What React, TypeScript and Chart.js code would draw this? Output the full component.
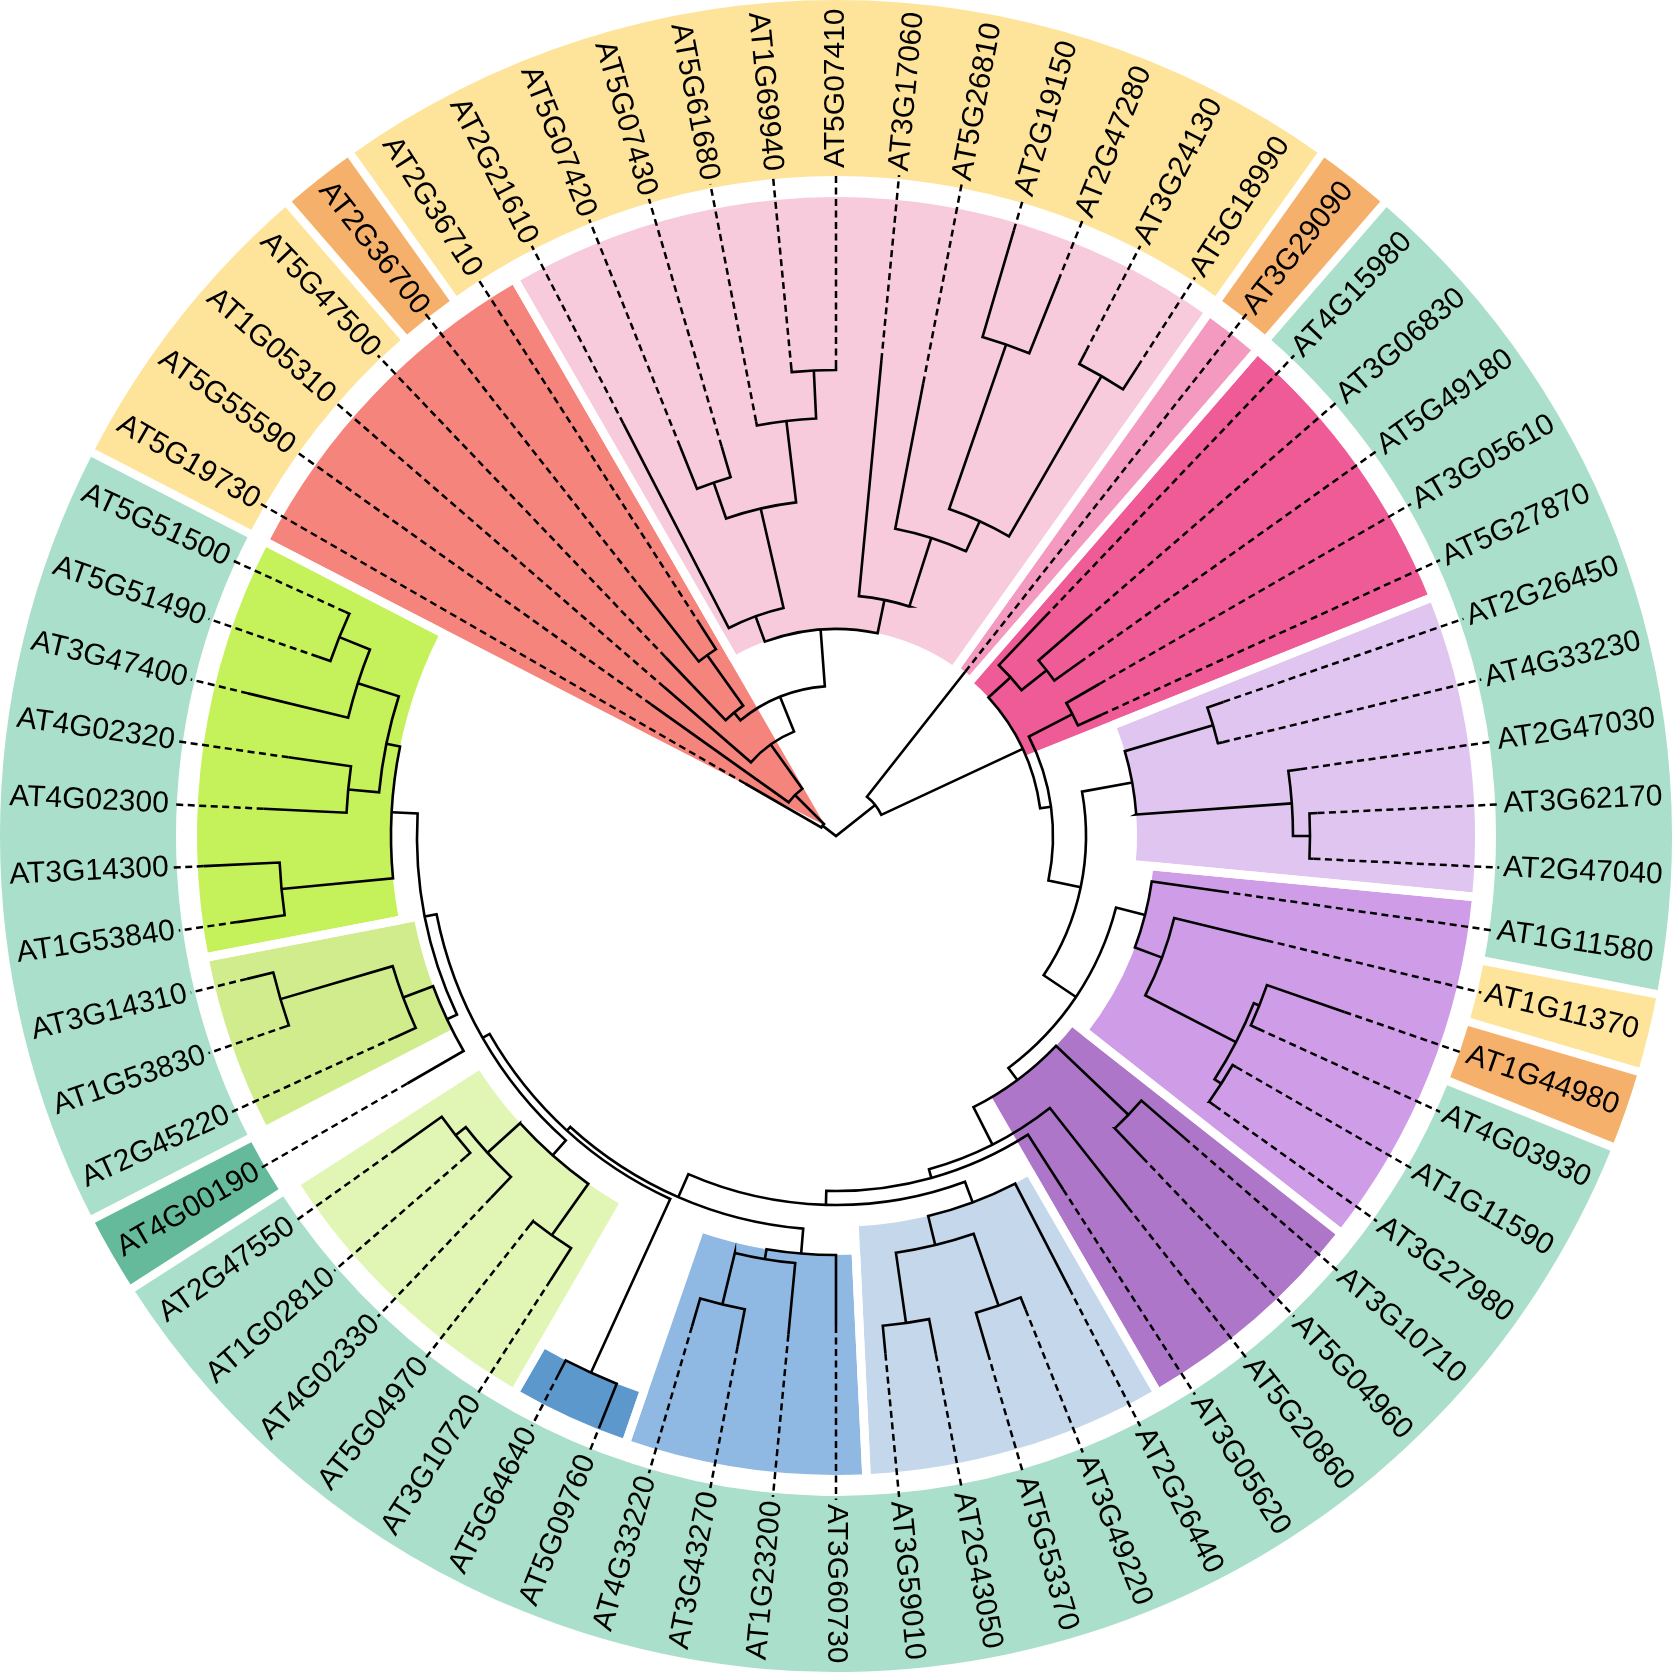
import React, { useEffect, useRef } from "react";
import { Chart, registerables } from "chart.js";

Chart.register(...registerables);

// ---------------- data ----------------
const leafLabels = [
  "AT5G19730", "AT5G55590", "AT1G05310", "AT5G47500", "AT2G36700", "AT2G36710", "AT2G21610", "AT5G07420", "AT5G07430", "AT5G61680",
  "AT1G69940", "AT5G07410", "AT3G17060", "AT5G26810", "AT2G19150", "AT2G47280", "AT3G24130", "AT5G18990", "AT3G29090", "AT4G15980",
  "AT3G06830", "AT5G49180", "AT3G05610", "AT5G27870", "AT2G26450", "AT4G33230", "AT2G47030", "AT3G62170", "AT2G47040", "AT1G11580",
  "AT1G11370", "AT1G44980", "AT4G03930", "AT1G11590", "AT3G27980", "AT3G10710", "AT5G04960", "AT5G20860", "AT3G05620", "AT2G26440",
  "AT3G49220", "AT5G53370", "AT2G43050", "AT3G59010", "AT3G60730", "AT1G23200", "AT3G43270", "AT4G33220", "AT5G09760", "AT5G64640",
  "AT3G10720", "AT5G04970", "AT4G02330", "AT1G02810", "AT2G47550", "AT4G00190", "AT2G45220", "AT1G53830", "AT3G14310", "AT1G53840",
  "AT3G14300", "AT4G02300", "AT4G02320", "AT3G47400", "AT5G51490", "AT5G51500",
];

// tree in Newick form; the number after ":" is the node depth (distance from the root)
const cladeRed = "(AT5G47500:247,(AT2G36700:312,AT2G36710:250):222):160";
const cladePinkA = "(AT2G21610:464,((AT5G07420:419,AT5G07430:406):374,(AT5G61680:422,(AT1G69940:469,AT5G07410:469):466):418):336):234";
const cladePinkB = "(AT3G17060:478,(AT5G26810:461,((AT2G19150:631,AT2G47280:598):520,(AT3G24130:545,AT5G18990:558):531):346):313):241";
const cladeUpper = `(AT5G19730:105,(AT5G55590:227,(AT1G05310:227,(${cladeRed},(${cladePinkA},${cladePinkB}):207):150):112.5):58):17`;

const cladeMagA = "(AT4G15980:303,(AT3G06830:332,AT5G49180:299):268):236";
const cladeMagB = "(AT3G05610:304,AT5G27870:292):266";
const cladeLilac = "((AT2G26450:410,AT4G33230:398):393,(AT2G47030:469,(AT3G62170:482,AT2G47040:478):474):457):301";
const cladePurple = "(AT1G11580:390,(AT1G11370:443,((AT1G44980:538,AT4G03930:464):456,(AT1G11590:462,AT3G27980:465):458):450):348):319";
const cladeLightBlue = "(AT2G26440:509,((AT3G49220:510,AT5G53370:539):497,(AT2G43050:528,AT3G59010:520):492):421):391";
const cladeBlue = "(AT3G60730:490,(AT1G23200:501,(AT3G43270:520,AT4G33220:511):482):429):419";
const cladeDarkBlue = "(AT5G09760:631,AT5G64640:605):590";
const cladePaleGreen = "((AT3G10720:528,AT5G04970:495):490,(AT4G02330:500,(AT1G02810:490,AT2G47550:539):484):471):427";
const cladeMidGreen = "(AT4G00190:495,(AT2G45220:485,(AT1G53830:582,AT3G14310:606):579):462):430";
const cladeGreen = "((AT1G53840:605,AT3G14300:633):557,((AT4G02300:573,AT4G02320:553):490,(AT3G47400:605,(AT5G51490:548,AT5G51500:540):535):502):459):445";
const cladeV = `(${cladeDarkBlue},(${cladePaleGreen},(${cladeMidGreen},${cladeGreen}):419):407):399`;
const cladeZ = `(${cladeLightBlue},(${cladeBlue},${cladeV}):394):369`;
const cladeG = `((AT3G10710:461,AT5G04960:444):404,(AT5G20860:472,(AT3G05620:420,${cladeZ}):355):346):304`;
const cladeLower = `(AT3G29090:209,(${cladeMagA},(${cladeMagB},(${cladeLilac},(${cladePurple},${cladeG}):289):250):217):206):50`;
const treeNewick = `(${cladeUpper},${cladeLower}):0;`;

// highlighted clades (inner wedges)
const wedgeFirst = ["AT5G19730", "AT2G21610", "AT3G29090", "AT4G15980", "AT2G26450", "AT1G11580", "AT3G10710", "AT2G26440", "AT3G60730", "AT5G09760", "AT3G10720", "AT2G45220", "AT1G53840"];
const wedgeLast = ["AT2G36710", "AT5G18990", "AT3G29090", "AT5G27870", "AT2G47040", "AT3G27980", "AT3G05620", "AT3G59010", "AT4G33220", "AT5G64640", "AT2G47550", "AT3G14310", "AT5G51500"];
const wedgeDepth = [17, 207, 209, 206, 301, 319, 304, 391, 419, 590, 427, 430, 445];
const wedgeColors = ["#F4847C", "#F7CBDC", "#F49AC0", "#EE5B96", "#E0C5F0", "#CF9CE8", "#AD76C8", "#C5D8EB", "#8FB9E3", "#5C98CC", "#E1F5B5", "#D0EC8C", "#C5F15A"];

// outer ring categories, as runs along the leaf order
const bandRunClass = ["Y", "O", "Y", "O", "T", "Y", "O", "T", "D", "T"];
const bandRunLength = [4, 1, 13, 1, 11, 1, 1, 23, 1, 10];
const bandColors: Record<string, string> = { Y: "#FEE49B", O: "#F5B16B", T: "#A9DFCB", D: "#64BA9B" };

// ---------------- layout constants ----------------
const EXTENT = 836;
const FIRST_LEAF_ANGLE = -150;
const WEDGE_OUTER = 639;
const BAND_INNER = 660;
const BAND_OUTER = 836;
const LABEL_START = 668;
const GAP = 8.5;

type TreeNode = { name: string; depth: number; children: TreeNode[]; angle: number; leafIndex: number };

function parseNewick(s: string): TreeNode {
  let i = 0;
  const parse = (): TreeNode => {
    const node: TreeNode = { name: "", depth: 0, children: [], angle: 0, leafIndex: -1 };
    if (s[i] === "(") {
      i++;
      node.children.push(parse());
      while (s[i] === ",") {
        i++;
        node.children.push(parse());
      }
      i++;
    }
    let name = "";
    while (i < s.length && !",():;".includes(s[i])) name += s[i++];
    node.name = name.trim();
    if (s[i] === ":") {
      i++;
      let num = "";
      while (i < s.length && !",();".includes(s[i])) num += s[i++];
      node.depth = parseFloat(num);
    }
    return node;
  };
  return parse();
}

const STEP = 360 / leafLabels.length;
const leafAngle = (idx: number) => FIRST_LEAF_ANGLE + idx * STEP;

function layout(node: TreeNode, leaves: TreeNode[]) {
  if (node.children.length === 0) {
    node.leafIndex = leafLabels.indexOf(node.name);
    node.angle = leafAngle(node.leafIndex);
    leaves.push(node);
    return;
  }
  node.children.forEach((c) => layout(c, leaves));
  const first = node.children[0];
  const last = node.children[node.children.length - 1];
  node.angle = (first.angle + last.angle) / 2;
}

const tree = parseNewick(treeNewick);
const leafNodes: TreeNode[] = [];
layout(tree, leafNodes);

const phyloPlugin = {
  id: "phylo",
  beforeDatasetsDraw(chart: any) {
    const { ctx } = chart;
    const xs = chart.scales.x;
    const ys = chart.scales.y;
    const cx = xs.getPixelForValue(0);
    const cy = ys.getPixelForValue(0);
    const rad = (deg: number) => (deg * Math.PI) / 180;
    const R = (d: number) => xs.getPixelForValue(d) - cx;
    const P = (d: number, deg: number): [number, number] => {
      const a = rad(deg);
      return [xs.getPixelForValue(d * Math.cos(a)), ys.getPixelForValue(d * Math.sin(a))];
    };
    const sector = (d0: number, d1: number, a0: number, a1: number, color: string) => {
      ctx.beginPath();
      ctx.arc(cx, cy, R(d1), rad(a0), rad(a1), false);
      ctx.arc(cx, cy, Math.max(R(d0), 0), rad(a1), rad(a0), true);
      ctx.closePath();
      ctx.fillStyle = color;
      ctx.fill();
    };
    const gapLine = (d0: number, d1: number, a: number) => {
      const [x0, y0] = P(d0, a);
      const [x1, y1] = P(d1, a);
      ctx.beginPath();
      ctx.moveTo(x0, y0);
      ctx.lineTo(x1, y1);
      ctx.strokeStyle = "#ffffff";
      ctx.lineWidth = GAP;
      ctx.lineCap = "butt";
      ctx.stroke();
    };

    ctx.save();

    // outer ring
    let start = 0;
    const bounds: number[] = [];
    bandRunClass.forEach((cls, k) => {
      const end = start + bandRunLength[k] - 1;
      const a0 = leafAngle(start) - STEP / 2;
      const a1 = leafAngle(end) + STEP / 2;
      sector(BAND_INNER, BAND_OUTER, a0, a1, bandColors[cls]);
      bounds.push(a0);
      start = end + 1;
    });
    bounds.forEach((a) => gapLine(BAND_INNER - 6, BAND_OUTER + 6, a));

    // clade wedges
    wedgeFirst.forEach((f, k) => {
      const i0 = leafLabels.indexOf(f);
      const i1 = leafLabels.indexOf(wedgeLast[k]);
      sector(wedgeDepth[k], WEDGE_OUTER, leafAngle(i0) - STEP / 2, leafAngle(i1) + STEP / 2, wedgeColors[k]);
    });
    wedgeFirst.forEach((f, k) => {
      const i0 = leafLabels.indexOf(f);
      const i1 = leafLabels.indexOf(wedgeLast[k]);
      gapLine(wedgeDepth[k] - 3, WEDGE_OUTER + 3, leafAngle(i0) - STEP / 2);
      gapLine(wedgeDepth[k] - 3, WEDGE_OUTER + 3, leafAngle(i1) + STEP / 2);
    });

    // dotted leaf extensions
    ctx.strokeStyle = "#000000";
    ctx.lineWidth = 2.5;
    ctx.setLineDash([7, 4.5]);
    leafNodes.forEach((lf) => {
      const [x0, y0] = P(lf.depth, lf.angle);
      const [x1, y1] = P(LABEL_START - 4, lf.angle);
      ctx.beginPath();
      ctx.moveTo(x0, y0);
      ctx.lineTo(x1, y1);
      ctx.stroke();
    });
    ctx.setLineDash([]);

    // tree branches
    ctx.lineWidth = 2.6;
    ctx.lineJoin = "miter";
    ctx.lineCap = "butt";
    const drawNode = (node: TreeNode) => {
      if (node.children.length === 0) return;
      const first = node.children[0];
      const last = node.children[node.children.length - 1];
      ctx.beginPath();
      let p = P(first.depth, first.angle);
      ctx.moveTo(p[0], p[1]);
      p = P(node.depth, first.angle);
      ctx.lineTo(p[0], p[1]);
      if (node.depth > 0) ctx.arc(cx, cy, R(node.depth), rad(first.angle), rad(last.angle), false);
      p = P(node.depth, last.angle);
      ctx.lineTo(p[0], p[1]);
      p = P(last.depth, last.angle);
      ctx.lineTo(p[0], p[1]);
      for (let k = 1; k < node.children.length - 1; k++) {
        const c = node.children[k];
        const a = P(node.depth, c.angle);
        const b = P(c.depth, c.angle);
        ctx.moveTo(a[0], a[1]);
        ctx.lineTo(b[0], b[1]);
      }
      ctx.stroke();
      node.children.forEach(drawNode);
    };
    drawNode(tree);

    // labels
    ctx.fillStyle = "#000000";
    ctx.font = "30px 'Liberation Sans', Arial, sans-serif";
    ctx.textBaseline = "middle";
    leafNodes.forEach((lf) => {
      let a = lf.angle;
      while (a > 180) a -= 360;
      while (a <= -180) a += 360;
      const [x, y] = P(LABEL_START, a);
      ctx.save();
      ctx.translate(x, y);
      if (a >= -90 && a <= 90) {
        ctx.rotate(rad(a));
        ctx.textAlign = "left";
      } else {
        ctx.rotate(rad(a + 180));
        ctx.textAlign = "right";
      }
      ctx.fillText(lf.name, 0, 0);
      ctx.restore();
    });

    ctx.restore();
  },
};

export default function App() {
  const ref = useRef<HTMLCanvasElement>(null);
  useEffect(() => {
    document.body.style.margin = "0";
    const tips = leafNodes.map((lf) => ({
      x: lf.depth * Math.cos((lf.angle * Math.PI) / 180),
      y: lf.depth * Math.sin((lf.angle * Math.PI) / 180),
    }));
    const chart = new Chart(ref.current as HTMLCanvasElement, {
      type: "scatter",
      data: { datasets: [{ data: tips, pointRadius: 0, pointHoverRadius: 0, showLine: false }] },
      options: {
        animation: false,
        responsive: false,
        devicePixelRatio: 1,
        events: [],
        layout: { padding: 0 },
        plugins: { legend: { display: false }, tooltip: { enabled: false } },
        scales: {
          x: { type: "linear", min: -EXTENT, max: EXTENT, display: false },
          y: { type: "linear", min: -EXTENT, max: EXTENT, reverse: true, display: false },
        },
      },
      plugins: [phyloPlugin],
    } as any);
    return () => chart.destroy();
  }, []);
  return <canvas ref={ref} width={1672} height={1672} style={{ display: "block", width: 1672, height: 1672 }} />;
}
